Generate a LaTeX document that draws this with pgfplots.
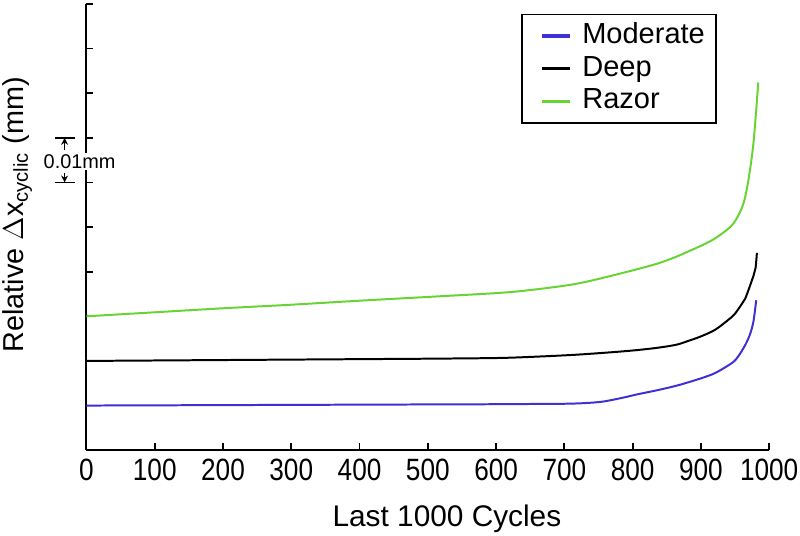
\documentclass[border=0pt]{standalone}
\usepackage{fontspec}
\setmainfont{Liberation Sans}
\newfontfamily\tickfont[FakeStretch=0.85]{Liberation Sans}
\usepackage{pgfplots}
\pgfplotsset{compat=1.18}
\usetikzlibrary{arrows.meta}
\definecolor{modblue}{RGB}{62,48,212}
\definecolor{razgreen}{RGB}{104,212,52}
\begin{document}
\begin{tikzpicture}
\begin{axis}[
  scale only axis,
  width=343.5pt, height=224.5pt,
  xmin=0, xmax=1000, ymin=0, ymax=0.1,
  axis lines=left,
  axis line style={line width=1pt, -},
  tick align=inside,
  tick style={line width=0.9pt, black},
  major tick length=3.5pt,
  xtick={0,100,...,1000},
  ytick={0,0.01,...,0.1},
  yticklabels={},
  /pgf/number format/assume math mode=true,
  /pgf/number format/1000 sep={},
  xticklabel style={font=\tickfont\fontsize{15.5}{18}\selectfont, yshift=-1pt},
  xlabel={Last 1000 Cycles},
  xlabel style={font=\fontsize{15}{18}\selectfont, at={(axis description cs:0.528,-0.106)}, anchor=north},
  ylabel={Relative $\Delta$x\textsubscript{cyclic} (mm)},
  ylabel style={font=\fontsize{14.5}{17}\selectfont, at={(axis description cs:-0.079,0.528)}, anchor=south, inner sep=0pt},
  clip=false,
  legend cell align=left,
  legend image code/.code={\path (0pt,0pt); \draw[#1, line width=1.6pt] (4.5pt,0pt) -- (18.5pt,0pt);},
  legend style={at={(axis description cs:0.923,0.978)}, anchor=north east,
    draw=black, line width=0.8pt, font=\fontsize{14.6}{16}\selectfont,
    inner xsep=5pt, inner ysep=3.5pt,
    nodes={text height=10.5pt, text depth=3pt, inner sep=0.5pt},
    row sep=2pt, column sep=5pt},
]
\coordinate (o) at (rel axis cs:0,0);
\addplot[modblue, line width=1pt, smooth] coordinates {
(0,0.01000) (100,0.01005) (200,0.01010) (300,0.01015) (400,0.01020) (500,0.01025)
(600,0.01030) (650,0.01035) (700,0.01040) (730,0.01055) (757,0.01090) (790,0.01190)
(805,0.01245) (838,0.01350) (863,0.01440) (878,0.01505) (900,0.01610) (921,0.01730)
(946,0.01960) (955,0.02110) (965,0.02360) (972,0.02600) (977,0.02890) (981,0.03360)
};
\addlegendentry{Moderate}
\addplot[black, line width=1pt, smooth] coordinates {
(0,0.02000) (100,0.02010) (200,0.02020) (300,0.02030) (400,0.02040) (500,0.02050)
(600,0.02065) (650,0.02090) (718,0.02140) (790,0.02220) (834,0.02290) (863,0.02360)
(878,0.02430) (900,0.02550) (921,0.02700) (940,0.02920) (950,0.03060) (965,0.03400)
(969,0.03560) (977,0.03910) (980,0.04080) (982,0.04420)
};
\addlegendentry{Deep}
\addplot[razgreen, line width=1pt, smooth] coordinates {
(0,0.03000) (100,0.03090) (200,0.03180) (300,0.03260) (400,0.03350) (507,0.03440)
(600,0.03520) (645,0.03580) (718,0.03730) (790,0.03990) (836,0.04180) (863,0.04330)
(878,0.04430) (900,0.04580) (921,0.04750) (946,0.05050) (961,0.05470) (969,0.06000)
(977,0.06890) (984,0.08240)
};
\addlegendentry{Razor}
% 0.01 mm scale bracket
\draw[line width=0.8pt] (axis cs:-46.6,0.07) -- (axis cs:-17.5,0.07);
\draw[line width=0.8pt] (axis cs:-46.6,0.06) -- (axis cs:-17.5,0.06);
\draw[line width=0.8pt, -{Stealth[length=3.5pt,width=3.5pt]}] (axis cs:-32,0.0672) -- (axis cs:-32,0.0700);
\draw[line width=0.8pt, -{Stealth[length=3.5pt,width=3.5pt]}] (axis cs:-32,0.0622) -- (axis cs:-32,0.0600);
\node[font=\fontsize{10}{12}\selectfont, fill=white, inner sep=0.5pt] at (axis cs:-10,0.0647) {0.01mm};
\end{axis}
\pgfresetboundingbox
\path ([shift={(-43.5pt,-42.7pt)}]o) rectangle ([shift={(359pt,226.5pt)}]o);
\end{tikzpicture}
\end{document}
